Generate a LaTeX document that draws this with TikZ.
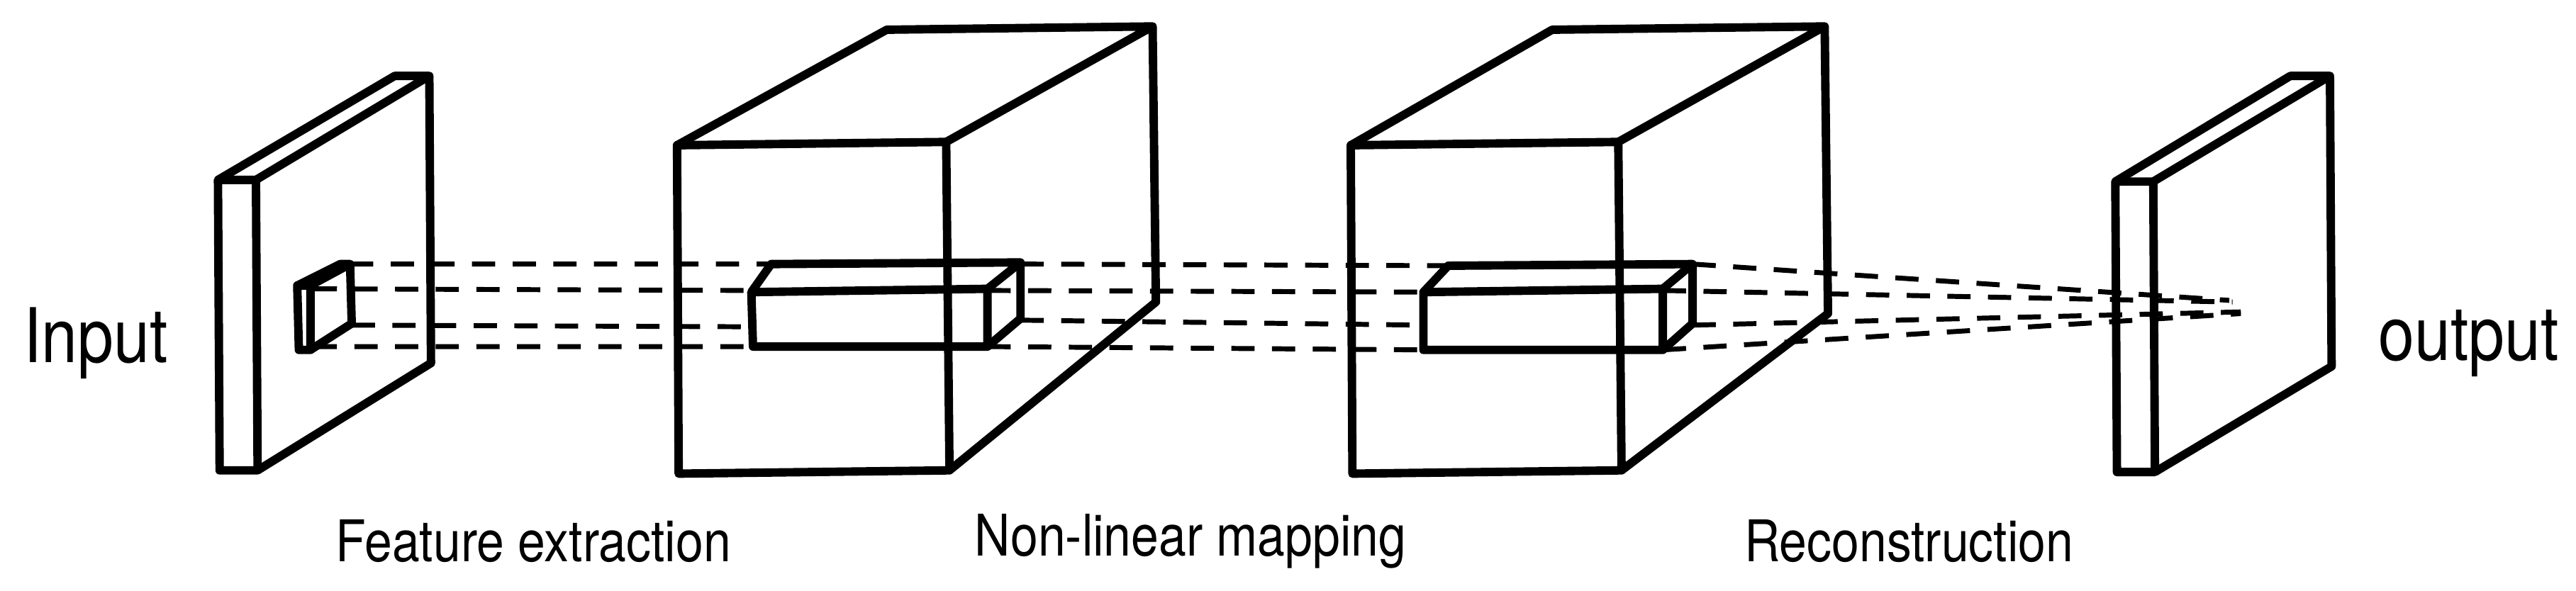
\documentclass[tikz,border=0pt]{standalone}
\usepackage{fontspec}
\setmainfont{TeX Gyre Heros}
\newfontfamily\narrowsf[FakeStretch=0.86]{TeX Gyre Heros}
\usetikzlibrary{backgrounds}

\begin{document}
\begin{tikzpicture}[x=0.01cm,y=-0.01cm,line join=round,
  edge/.style={draw,line width=1.45pt},
  ray/.style={draw,dashed,line width=0.85pt,dash pattern=on 4pt off 3pt},
  lbl/.style={font=\narrowsf\fontsize{9.9}{11}\selectfont,inner sep=0pt},
  side/.style={font=\narrowsf\fontsize{13}{15}\selectfont,inner sep=0pt}]
\useasboundingbox (0,0) rectangle (1560,357.7);

% Input plane
\draw[edge] (132,109) -- (155,109) -- (156,285) -- (133,285) -- cycle;
\draw[edge] (132,109) -- (239,46) -- (260,46) -- (155,109);
\draw[edge] (260,46) -- (261,220) -- (156,285);

% Patch on the input
\draw[edge] (180,173) -- (188,173) -- (188,212) -- (181,212) -- cycle;
\draw[edge] (180,173) -- (206,160) -- (212,160) -- (188,173);
\draw[edge] (212,160) -- (213,196) -- (188,212);

% First volume
\draw[edge] (410,88) -- (573,86) -- (575,285) -- (411,287) -- cycle;
\draw[edge] (410,88) -- (537,18) -- (698,16) -- (573,86);
\draw[edge] (698,16) -- (700,183) -- (575,285);
% box inside it
\draw[edge] (455,177) -- (598,175) -- (598,210) -- (456,210) -- cycle;
\draw[edge] (455,177) -- (467,160) -- (618,159) -- (598,175);
\draw[edge] (618,159) -- (618,193) -- (598,210);

% Second volume
\draw[edge] (818,88) -- (980,86) -- (982,285) -- (819,287) -- cycle;
\draw[edge] (818,88) -- (940,18) -- (1105,16) -- (980,86);
\draw[edge] (1105,16) -- (1107,190) -- (982,285);
% box inside it
\draw[edge] (862,177) -- (1007,175) -- (1007,212) -- (862,212) -- cycle;
\draw[edge] (862,177) -- (877,161) -- (1025,160) -- (1007,175);
\draw[edge] (1025,160) -- (1025,196) -- (1007,212);

% Output plane
\draw[edge] (1281,110) -- (1304,110) -- (1305,286) -- (1282,286) -- cycle;
\draw[edge] (1281,110) -- (1387,46) -- (1411,46) -- (1304,110);
\draw[edge] (1411,46) -- (1412,222) -- (1305,286);

% Rays between the layers
\draw[ray] (212,160) -- (467,160) (618,160) -- (877,161) (1025,160) -- (1350,182);
\draw[ray] (190,175) -- (455,176) (598,176) -- (862,177) (1007,176) -- (1352,183);
\draw[ray] (213,197) -- (456,198) (618,194) -- (862,197) (1025,197) -- (1357,189);
\draw[ray] (190,210) -- (456,210) (598,210) -- (862,212) (1007,212) -- (1357,190);

% Labels
\node[side] (in) at (58,208) {Input};
\node[side] (out) at (1495,208) {output};
\node[lbl] (fe) at (323,328) {Feature extraction};
\node[lbl] (nl) at (721,328) {Non-linear mapping};
\node[lbl] (rc) at (1156,328) {Reconstruction};
\end{tikzpicture}
\end{document}
